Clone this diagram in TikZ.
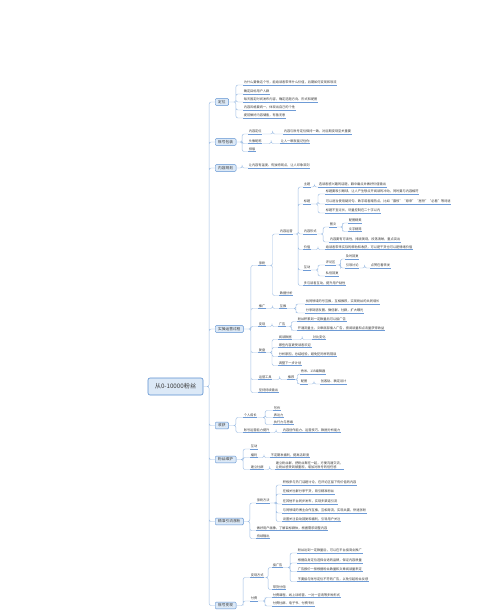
\documentclass[tikz,border=0pt]{standalone}
\usepackage{fontspec}
\setmainfont{Noto Sans CJK SC}
\usetikzlibrary{calc}

\definecolor{topicline}{HTML}{5B8FD0}
\definecolor{topicfill}{HTML}{DCE9F7}
\definecolor{linkblue}{HTML}{9DBDE4}
\definecolor{lineblue}{HTML}{6E9BD6}
\definecolor{textgray}{HTML}{3A3A3A}

\begin{document}
\begin{tikzpicture}[x=1pt, y=-1pt,
        root/.style = {draw=topicline, fill=topicfill,
            rounded corners=2pt, line width=0.6pt,
            minimum width=55pt, minimum height=17pt,
            font=\fontsize{6.2}{7}\selectfont, text=textgray
            },
        topic/.style = {draw=topicline, fill=topicfill,
            rounded corners=1pt, line width=0.45pt,
            anchor=west, inner xsep=3pt, inner ysep=1.6pt,
            font=\fontsize{3.7}{4.4}\selectfont, text=textgray
            },
        sub/.style = {anchor=south west,
            inner xsep=0.6pt, inner ysep=0.7pt, align=left,
            font=\fontsize{3.2}{4}\selectfont, text=textgray,
            append after command={(\tikzlastnode.south west)
                edge[draw=lineblue, line width=0.4pt] (\tikzlastnode.south east)}
            },
        link/.style = {draw=linkblue, line width=0.45pt, rounded corners=2pt},
        elbow/.style = {to path={-| ($(\tikztostart)!.5!(\tikztotarget)$)
            |- (\tikztotarget)}}]

    \useasboundingbox (0,0) rectangle (500,610);
    \clip (0,0) rectangle (500,610);
    \fill[white] (0,0) rectangle (500,610);

    % Root
    \node[root] (root) at (175.5,386.5) {从0-10000粉丝};

    % Main topics
    \node[topic] (dingwei) at (215,102) {定位};
    \node[topic] (baozhuang) at (215,142) {账号包装};
    \node[topic] (guihua) at (215,168) {内容规划};
    \node[topic] (shicao) at (215,329) {实操运营过程};
    \node[topic] (shouhuo) at (215,425.5) {收获};
    \node[topic] (weihu) at (215,459.5) {粉丝维护};
    \node[topic] (yinliu) at (215,521.5) {精准引流涨粉};
    \node[topic] (bianxian) at (215,605.5) {账号变现};

    \draw[link] (root.east) to[elbow] (dingwei.west)
        (root.east) to[elbow] (baozhuang.west)
        (root.east) to[elbow] (guihua.west)
        (root.east) to[elbow] (shicao.west)
        (root.east) to[elbow] (shouhuo.west)
        (root.east) to[elbow] (weihu.west)
        (root.east) to[elbow] (yinliu.west)
        (root.east) to[elbow] (bianxian.west);

    % Dingwei
    \node[sub] (dw1) at (243,85) {为什么要做这个号，能给读者带来什么价值，后期如何变现和导流};
    \node[sub] (dw2) at (243,94) {确定目标用户人群};
    \node[sub] (dw3) at (243,102) {每天固定时间发布内容，确定选题方向、形式和配图};
    \node[sub] (dw4) at (243,110) {内容风格要统一，体现出自己的个性};
    \node[sub] (dw5) at (243,118) {提前做好内容储备，有备无患};
    \draw[link] (dingwei.east) to[elbow] (dw1.south west)
        (dingwei.east) to[elbow] (dw2.south west)
        (dingwei.east) to[elbow] (dw3.south west)
        (dingwei.east) to[elbow] (dw4.south west)
        (dingwei.east) to[elbow] (dw5.south west);

    % Baozhuang
    \node[sub] (bz1) at (248,134) {内容定位};
    \node[sub] (bz11) at (283,134) {内容与账号定位保持一致，对后期变现至关重要};
    \node[sub] (bz2) at (248,143.5) {头像昵称};
    \node[sub] (bz21) at (280,143.5) {让人一眼就能记住你};
    \node[sub] (bz3) at (248,151.5) {排版};
    \draw[link] (baozhuang.east) to[elbow] (bz1.south west)
        (baozhuang.east) to[elbow] (bz2.south west)
        (baozhuang.east) to[elbow] (bz3.south west);
    \draw[link] (bz1.south east) to[elbow] (bz11.south west);
    \draw[link] (bz2.south east) to[elbow] (bz21.south west);

    % Guihua
    \node[sub] (gh1) at (248,168) {让内容有温度、有独特观点，让人印象深刻};
    \draw[link] (guihua.east) to[elbow] (gh1.south west);

    % Shicao
    \node[sub] (zf) at (258,265.5) {涨粉};
    \node[sub] (nryy) at (279,234) {内容运营};
    \node[sub] (zt) at (303,187) {主题};
    \node[sub] (zt1) at (318,187) {选读者感兴趣的话题，戳中痛点并做好价值输出};
    \node[sub] (bt) at (303,204) {标题};
    \node[sub] (bt1) at (325,194) {标题要吸引眼球，让人产生想点开阅读的冲动，同时要与内容相符};
    \node[sub] (bt2) at (325,204) {可以适当使用疑问句、数字或者蹭热点，比如“震惊”“原来”“居然”“必看”等词语};
    \node[sub] (bt3) at (325,213) {标题不宜过长，尽量控制在二十字以内};
    \node[sub] (xs) at (303,234) {内容形式};
    \node[sub] (tw) at (329,227) {图文};
    \node[sub] (tw1) at (348,223) {配图精美};
    \node[sub] (tw2) at (348,231.5) {文字精简};
    \node[sub] (xs2) at (329,242) {内容要有可读性，排版美观，段落清晰，重点突出};
    \node[sub] (jz) at (303,249.5) {价值};
    \node[sub] (jz1) at (325,249.5) {给读者带来实际的帮助和收获，可以是干货也可以是情绪价值};
    \node[sub] (hd) at (303,270) {互动};
    \node[sub] (pl) at (325,265) {评论区};
    \node[sub] (pl1) at (345,259) {及时回复};
    \node[sub] (pl2) at (345,268) {引导讨论};
    \node[sub] (pl21) at (370,268) {点赞在看转发};
    \node[sub] (sx) at (325,276) {私信回复};
    \node[sub] (nr6) at (303,285.5) {多与读者互动，提升用户粘性};
    \node[sub] (sj) at (279,295.5) {数据分析};
    \node[sub] (tg) at (258,308.5) {推广};
    \node[sub] (ht) at (279,308.5) {互推};
    \node[sub] (ht1) at (305,304) {找同领域的号互推，互相推荐，实现粉丝的共同增长};
    \node[sub] (ht2) at (305,313) {分享到朋友圈、微信群、社群，扩大曝光};
    \node[sub] (bxs) at (258,326.5) {变现};
    \node[sub] (gg) at (278,326.5) {广告};
    \node[sub] (gg1) at (297,321.5) {粉丝积累到一定数量后可以接广告};
    \node[sub] (gg2) at (297,330.5) {开通流量主，文章底部插入广告，按阅读量和点击量获得收益};
    \node[sub] (fp) at (258,352.5) {复盘};
    \node[sub] (fp1) at (278,339.5) {阅读数据};
    \node[sub] (fp11) at (312,339.5) {对比变化};
    \node[sub] (fp2) at (278,347.5) {哪些内容更受读者欢迎};
    \node[sub] (fp3) at (278,356.5) {分析原因，总结经验，避免犯同样的错误};
    \node[sub] (fp4) at (278,365.5) {调整下一步计划};
    \node[sub] (gj) at (258,379.5) {运营工具};
    \node[sub] (gj1) at (287,379.5) {推荐};
    \node[sub] (gj11) at (300,374) {秀米、135编辑器};
    \node[sub] (gj12) at (300,384) {配图};
    \node[sub] (gj121) at (320,384) {创客贴、稿定设计};
    \node[sub] (jc) at (258,392.5) {坚持持续输出};

    \draw[link] (shicao.east) to[elbow] (zf.south west)
        (shicao.east) to[elbow] (tg.south west)
        (shicao.east) to[elbow] (bxs.south west)
        (shicao.east) to[elbow] (fp.south west)
        (shicao.east) to[elbow] (gj.south west)
        (shicao.east) to[elbow] (jc.south west);
    \draw[link] (zf.south east) to[elbow] (nryy.south west)
        (zf.south east) to[elbow] (sj.south west);
    \draw[link] (nryy.south east) to[elbow] (zt.south west)
        (nryy.south east) to[elbow] (bt.south west)
        (nryy.south east) to[elbow] (xs.south west)
        (nryy.south east) to[elbow] (jz.south west)
        (nryy.south east) to[elbow] (hd.south west)
        (nryy.south east) to[elbow] (nr6.south west);
    \draw[link] (zt.south east) to[elbow] (zt1.south west);
    \draw[link] (bt.south east) to[elbow] (bt1.south west)
        (bt.south east) to[elbow] (bt2.south west)
        (bt.south east) to[elbow] (bt3.south west);
    \draw[link] (xs.south east) to[elbow] (tw.south west)
        (xs.south east) to[elbow] (xs2.south west);
    \draw[link] (tw.south east) to[elbow] (tw1.south west)
        (tw.south east) to[elbow] (tw2.south west);
    \draw[link] (jz.south east) to[elbow] (jz1.south west);
    \draw[link] (hd.south east) to[elbow] (pl.south west)
        (hd.south east) to[elbow] (sx.south west);
    \draw[link] (pl.south east) to[elbow] (pl1.south west)
        (pl.south east) to[elbow] (pl2.south west);
    \draw[link] (pl2.south east) to[elbow] (pl21.south west);
    \draw[link] (tg.south east) to[elbow] (ht.south west);
    \draw[link] (ht.south east) to[elbow] (ht1.south west)
        (ht.south east) to[elbow] (ht2.south west);
    \draw[link] (bxs.south east) to[elbow] (gg.south west);
    \draw[link] (gg.south east) to[elbow] (gg1.south west)
        (gg.south east) to[elbow] (gg2.south west);
    \draw[link] (fp.south east) to[elbow] (fp1.south west)
        (fp.south east) to[elbow] (fp2.south west)
        (fp.south east) to[elbow] (fp3.south west)
        (fp.south east) to[elbow] (fp4.south west);
    \draw[link] (fp1.south east) to[elbow] (fp11.south west);
    \draw[link] (gj.south east) to[elbow] (gj1.south west);
    \draw[link] (gj1.south east) to[elbow] (gj11.south west)
        (gj1.south east) to[elbow] (gj12.south west);
    \draw[link] (gj12.south east) to[elbow] (gj121.south west);

    % Shouhuo
    \node[sub] (sh1) at (243,417.5) {个人成长};
    \node[sub] (sh11) at (273,410.5) {写作};
    \node[sub] (sh12) at (273,417.5) {表达力};
    \node[sub] (sh13) at (273,424.5) {执行力与思维};
    \node[sub] (sh2) at (243,432.5) {账号运营能力提升};
    \node[sub] (sh21) at (282,432.5) {内容创作能力、运营技巧、数据分析能力};
    \draw[link] (shouhuo.east) to[elbow] (sh1.south west)
        (shouhuo.east) to[elbow] (sh2.south west);
    \draw[link] (sh1.south east) to[elbow] (sh11.south west)
        (sh1.south east) to[elbow] (sh12.south west)
        (sh1.south east) to[elbow] (sh13.south west);
    \draw[link] (sh2.south east) to[elbow] (sh21.south west);

    % Weihu
    \node[sub] (wh1) at (250,449) {互动};
    \node[sub] (wh2) at (250,457.5) {福利};
    \node[sub] (wh21) at (270,457.5) {不定期发福利，提高活跃度};
    \node[sub] (wh3) at (250,469.5) {建立社群};
    \node[sub] (wh31) at (275,469.5) {建立粉丝群，把粉丝聚在一起，方便沟通交流，\\让粉丝感受到被重视，增加对账号的信任感};
    \draw[link] (weihu.east) to[elbow] (wh1.south west)
        (weihu.east) to[elbow] (wh2.south west)
        (weihu.east) to[elbow] (wh3.south west);
    \draw[link] (wh2.south east) to[elbow] (wh21.south west);
    \draw[link] (wh3.south east) to[elbow] (wh31.south west);

    % Yinliu
    \node[sub] (yl1) at (256,503) {涨粉方法};
    \node[sub] (yl11) at (282,485) {积极参与热门话题讨论，在评论区留下有价值的内容};
    \node[sub] (yl12) at (282,494) {在相关社群分享干货，吸引精准粉丝};
    \node[sub] (yl13) at (282,504) {在其他平台同步发布，实现多渠道引流};
    \node[sub] (yl14) at (282,513) {与同领域的博主合作互推，互相导流，实现共赢，快速涨粉};
    \node[sub] (yl15) at (282,521.5) {设置关注自动回复和福利，引导用户关注};
    \node[sub] (yl2) at (256,530.5) {做好用户画像，了解目标群体，根据需求调整内容};
    \node[sub] (yl3) at (256,538.5) {持续输出};
    \draw[link] (yinliu.east) to[elbow] (yl1.south west)
        (yinliu.east) to[elbow] (yl2.south west)
        (yinliu.east) to[elbow] (yl3.south west);
    \draw[link] (yl1.south east) to[elbow] (yl11.south west)
        (yl1.south east) to[elbow] (yl12.south west)
        (yl1.south east) to[elbow] (yl13.south west)
        (yl1.south east) to[elbow] (yl14.south west)
        (yl1.south east) to[elbow] (yl15.south west);

    % Bianxian
    \node[sub] (bx1) at (250,577.5) {变现方式};
    \node[sub] (bx11) at (272,567.5) {接广告};
    \node[sub] (bx111) at (297,553) {粉丝达到一定数量后，可以在平台接商业推广};
    \node[sub] (bx112) at (297,563) {根据自身定位选择合适的品牌，保证内容质量};
    \node[sub] (bx113) at (297,571.5) {广告报价一般根据粉丝数量和文章阅读量来定};
    \node[sub] (bx114) at (297,581.5) {不要接与账号定位不符的广告，以免引起粉丝反感};
    \node[sub] (bx12) at (272,589.5) {带货分佣};
    \node[sub] (bx2) at (250,601) {付费};
    \node[sub] (bx21) at (272,597.5) {付费课程、线上训练营、一对一咨询等多种形式};
    \node[sub] (bx22) at (272,606) {付费社群、电子书、付费专栏};
    \draw[link] (bianxian.east) to[elbow] (bx1.south west)
        (bianxian.east) to[elbow] (bx2.south west);
    \draw[link] (bx1.south east) to[elbow] (bx11.south west)
        (bx1.south east) to[elbow] (bx12.south west);
    \draw[link] (bx11.south east) to[elbow] (bx111.south west)
        (bx11.south east) to[elbow] (bx112.south west)
        (bx11.south east) to[elbow] (bx113.south west)
        (bx11.south east) to[elbow] (bx114.south west);
    \draw[link] (bx2.south east) to[elbow] (bx21.south west)
        (bx2.south east) to[elbow] (bx22.south west);

\end{tikzpicture}
\end{document}
